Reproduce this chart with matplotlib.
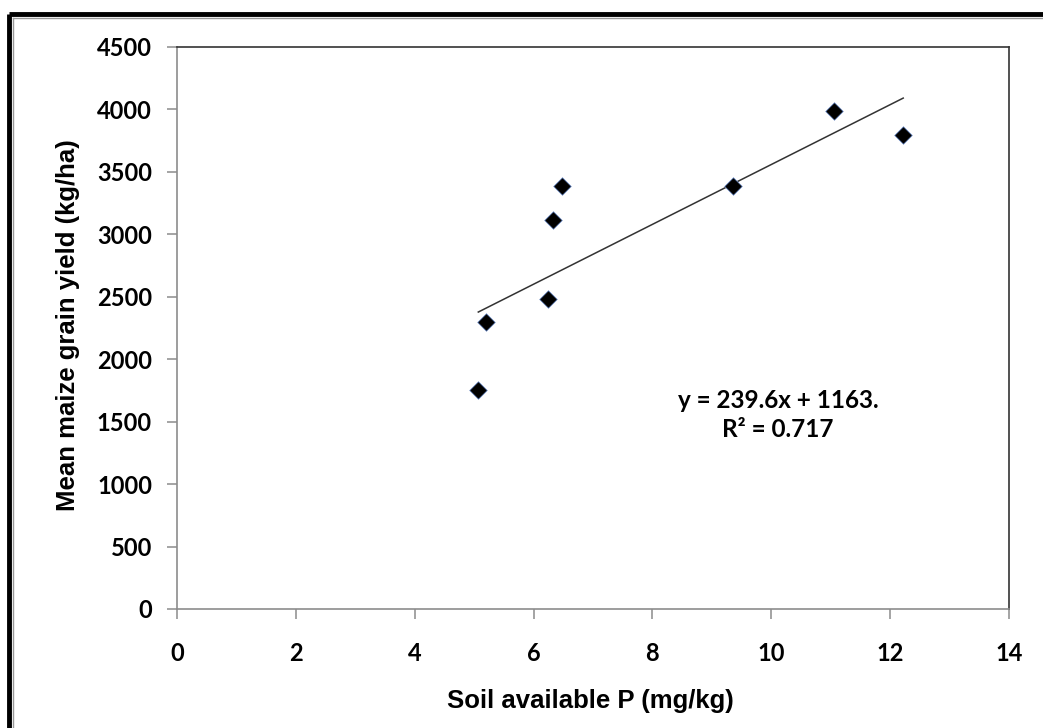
import numpy as np
import matplotlib
matplotlib.use('Agg')
import matplotlib.pyplot as plt
from matplotlib.lines import Line2D

# datos
fosforo = [5.07, 5.2, 6.25, 6.33, 6.48, 9.35, 11.05, 12.22]
rendimiento = [1750, 2295, 2480, 3115, 3385, 3390, 3990, 3795]
pendiente = 239.6
intercepto = 1163
xticks = [0, 2, 4, 6, 8, 10, 12, 14]
yticks = [0, 500, 1000, 1500, 2000, 2500, 3000, 3500, 4000, 4500]

fig = plt.figure(figsize=(10.43, 7.28), dpi=100)
ax = fig.add_axes([177/1043, 1 - 609/728, (1009 - 177)/1043, (609 - 47)/728])

# marco negro del recuadro (solo arriba e izquierda)
fig.add_artist(Line2D([9/1043, 1], [1 - 14/728, 1 - 14/728], color='black', lw=3.5,
                      transform=fig.transFigure, solid_capstyle='butt'))
fig.add_artist(Line2D([9/1043, 9/1043], [0, 1 - 14/728], color='black', lw=3.5,
                      transform=fig.transFigure, solid_capstyle='butt'))
fig.add_artist(Line2D([12.5/1043, 1], [1 - 17.5/728, 1 - 17.5/728], color='#999999', lw=1,
                      transform=fig.transFigure))
fig.add_artist(Line2D([12.5/1043, 12.5/1043], [0, 1 - 17.5/728], color='#999999', lw=1,
                      transform=fig.transFigure))

ax.scatter(fosforo, rendimiento, marker='D', s=80, color='black',
           edgecolors='#6a8ccc', linewidths=0.5, zorder=3)

xl = np.array([min(fosforo), max(fosforo)])
ax.plot(xl, pendiente*xl + intercepto, color='#333333', lw=1.1)

ax.set_xlim(0, 14)
ax.set_ylim(0, 4500)
ax.set_xticks(xticks)
ax.set_yticks(yticks)

for s in ['left', 'bottom']:
    ax.spines[s].set_color('#8c8c8c')
    ax.spines[s].set_linewidth(1.2)
for s in ['top', 'right']:
    ax.spines[s].set_color('#333333')
    ax.spines[s].set_linewidth(1.2)

ax.tick_params(direction='out', length=7, width=1.1, color='#8c8c8c')
ax.tick_params(axis='y', pad=11)
ax.tick_params(axis='x', pad=17)
for lab in ax.get_xticklabels() + ax.get_yticklabels():
    lab.set_fontfamily('Lato')
    lab.set_fontweight('bold')
    lab.set_fontsize(17)

ax.set_xlabel('Soil available P (mg/kg)', fontfamily='Liberation Sans', fontweight='bold',
              fontsize=18.5)
ax.set_ylabel('Mean maize grain yield (kg/ha)', fontfamily='Liberation Sans', fontweight='bold',
              fontsize=18.5)
ax.xaxis.set_label_coords(0.497, -0.143)
ax.yaxis.set_label_coords(-0.116, 0.505)

ax.text(10.11, 1553, 'y = 239.6x + 1163.\nR² = 0.717', ha='center', va='center',
        fontfamily='Lato', fontweight='bold', fontsize=17.5, linespacing=1.3)

fig.savefig('out.png', dpi=100)
